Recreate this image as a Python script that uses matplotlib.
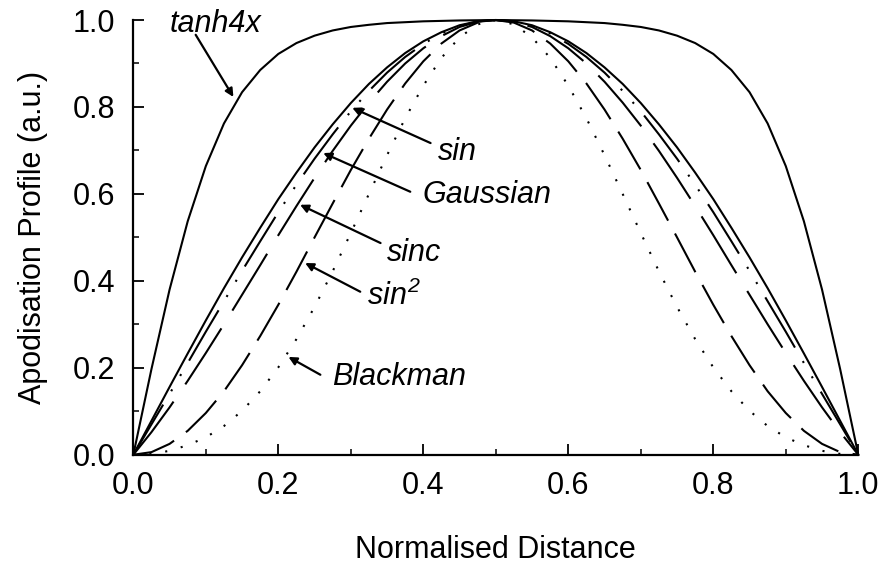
import numpy as np
import matplotlib
matplotlib.use('Agg')
import matplotlib.pyplot as plt
from matplotlib.ticker import MultipleLocator

plt.rcParams['font.family'] = ['Liberation Sans', 'DejaVu Sans']
plt.rcParams['mathtext.fontset'] = 'custom'
plt.rcParams['mathtext.rm'] = 'Liberation Sans:italic'
plt.rcParams['mathtext.it'] = 'Liberation Sans:italic'

# normalised distance (step 0.025)
x = np.linspace(0, 1, 41)

# profiles
tanh4x = [0, 0.197, 0.380, 0.537, 0.664, 0.762, 0.834, 0.885, 0.922, 0.947,
          0.964, 0.976, 0.984, 0.989, 0.993, 0.995, 0.997, 0.998, 0.999, 0.9995,
          1.0,
          0.9995, 0.999, 0.998, 0.997, 0.995, 0.993, 0.989, 0.984, 0.976, 0.964,
          0.947, 0.922, 0.885, 0.834, 0.762, 0.664, 0.537, 0.380, 0.197, 0]
sin_p = [0, 0.078, 0.156, 0.233, 0.309, 0.383, 0.454, 0.522, 0.588, 0.649,
         0.707, 0.760, 0.809, 0.853, 0.891, 0.924, 0.951, 0.972, 0.988, 0.997,
         1.0,
         0.997, 0.988, 0.972, 0.951, 0.924, 0.891, 0.853, 0.809, 0.760, 0.707,
         0.649, 0.588, 0.522, 0.454, 0.383, 0.309, 0.233, 0.156, 0.078, 0]
gaussian = [0, 0.070, 0.140, 0.211, 0.283, 0.353, 0.423, 0.491, 0.558, 0.621,
            0.681, 0.737, 0.790, 0.837, 0.879, 0.915, 0.945, 0.969, 0.986, 0.997,
            1.0,
            0.997, 0.986, 0.969, 0.945, 0.915, 0.879, 0.837, 0.790, 0.737, 0.681,
            0.621, 0.558, 0.491, 0.423, 0.353, 0.283, 0.211, 0.140, 0.070, 0]
sinc = [0, 0.052, 0.109, 0.170, 0.234, 0.300, 0.368, 0.436, 0.505, 0.572,
        0.637, 0.699, 0.757, 0.810, 0.858, 0.900, 0.935, 0.963, 0.984, 0.996,
        1.0,
        0.996, 0.984, 0.963, 0.935, 0.900, 0.858, 0.810, 0.757, 0.699, 0.637,
        0.572, 0.505, 0.436, 0.368, 0.300, 0.234, 0.170, 0.109, 0.052, 0]
sin2 = [0, 0.006, 0.025, 0.055, 0.096, 0.146, 0.206, 0.273, 0.345, 0.421,
        0.500, 0.578, 0.655, 0.727, 0.794, 0.854, 0.905, 0.946, 0.976, 0.994,
        1.0,
        0.994, 0.976, 0.946, 0.905, 0.854, 0.794, 0.727, 0.655, 0.578, 0.500,
        0.421, 0.345, 0.273, 0.206, 0.146, 0.096, 0.055, 0.025, 0.006, 0]
blackman = [0, 0.002, 0.009, 0.022, 0.040, 0.066, 0.101, 0.146, 0.201, 0.266,
            0.340, 0.422, 0.510, 0.600, 0.689, 0.774, 0.849, 0.913, 0.960, 0.990,
            1.0,
            0.990, 0.960, 0.913, 0.849, 0.774, 0.689, 0.600, 0.510, 0.422, 0.340,
            0.266, 0.201, 0.146, 0.101, 0.066, 0.040, 0.022, 0.009, 0.002, 0]

fig = plt.figure(figsize=(8.83, 5.72), dpi=100)
ax = fig.add_axes([0.151, 0.205, 0.821, 0.76])

lw = 1.5
ax.plot(x, tanh4x, color='k', lw=lw, clip_on=False)
ax.plot(x, sin_p, color='k', lw=lw, clip_on=False)
ax.plot(x, gaussian, color='k', lw=lw, ls=(0, (28, 7.5, 1, 7.5, 1, 7.5)), clip_on=False)
ax.plot(x, sinc, color='k', lw=lw, ls=(0, (32, 10)), clip_on=False)
ax.plot(x, sin2, color='k', lw=lw, ls=(0, (21, 7)), clip_on=False)
ax.plot(x, blackman, color='k', lw=lw, ls=(0, (1, 6.7)), clip_on=False)

ax.set_xlim(0, 1)
ax.set_ylim(0, 1)
ax.xaxis.set_major_locator(MultipleLocator(0.2))
ax.xaxis.set_minor_locator(MultipleLocator(0.1))
ax.yaxis.set_major_locator(MultipleLocator(0.2))
ax.yaxis.set_minor_locator(MultipleLocator(0.1))
ax.xaxis.set_major_formatter(plt.FormatStrFormatter('%.1f'))
ax.yaxis.set_major_formatter(plt.FormatStrFormatter('%.1f'))
ax.tick_params(which='major', direction='in', length=8, width=1.3, labelsize=22)
ax.tick_params(axis='x', which='major', pad=12)
ax.tick_params(axis='y', which='major', pad=13)
ax.tick_params(which='minor', direction='in', length=4, width=1.1)
for s in ['top', 'right']:
    ax.spines[s].set_visible(False)
for s in ['left', 'bottom']:
    ax.spines[s].set_linewidth(1.6)

ax.set_xlabel('Normalised Distance', fontsize=22, labelpad=24)
ax.set_ylabel('Apodisation Profile (a.u.)', fontsize=22, labelpad=18)

arrow = dict(arrowstyle='-|>', color='k', lw=1.6, mutation_scale=12, shrinkA=0, shrinkB=0)
labels = [('tanh4x', (0.114, 0.99), (0.138, 0.823), (0.086, 0.966)),
          ('sin', (0.447, 0.697), (0.302, 0.798), (0.41, 0.717)),
          ('Gaussian', (0.488, 0.598), (0.262, 0.694), (0.382, 0.605)),
          ('sinc', (0.387, 0.464), (0.230, 0.575), (0.341, 0.487)),
          ('$\\mathit{sin}^{\\mathrm{2}}$', (0.359, 0.365), (0.237, 0.441), (0.313, 0.375)),
          ('Blackman', (0.366, 0.179), (0.214, 0.225), (0.258, 0.184))]
for txt, pos, tip, start in labels:
    ax.annotate('', xy=tip, xytext=start, arrowprops=arrow)
    ax.text(pos[0], pos[1], txt, fontsize=22, style='italic', ha='center', va='center')

fig.savefig('out.png', dpi=100)
